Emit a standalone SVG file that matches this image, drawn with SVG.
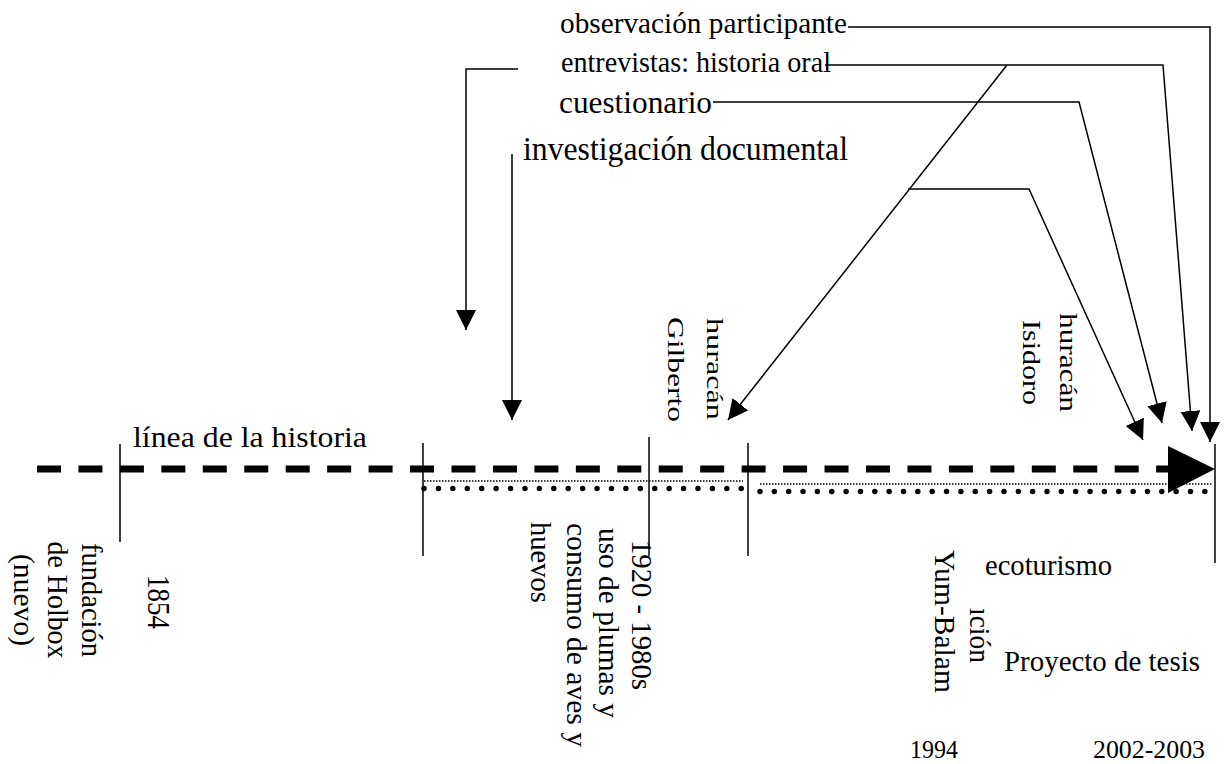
<svg xmlns="http://www.w3.org/2000/svg" width="1226" height="764" viewBox="0 0 1226 764">
<style>
text{font-family:"Liberation Serif","Times New Roman",serif;fill:#000}
.c{fill:none;stroke:#000;stroke-width:1.5}
.t{stroke:#000;stroke-width:1.5}
</style>
<defs>
<marker id="ah" markerUnits="userSpaceOnUse" viewBox="0 0 20 20" refX="20" refY="10" markerWidth="20" markerHeight="20" orient="auto">
<path d="M0,0 L20,10 L0,20 z" fill="#000"/>
</marker>
</defs>
<rect width="1226" height="764" fill="#fff"/>
<g id="timeline">
<line x1="37" y1="469" x2="1170" y2="469" stroke="#000" stroke-width="7" stroke-dasharray="24 17.45"/>
<polygon points="1168,446 1215,469 1168,493" fill="#000"/>
<line x1="424" y1="481" x2="743" y2="481" stroke="#000" stroke-width="1.5" stroke-dasharray="1.5 1.5"/>
<line x1="424" y1="488.5" x2="743" y2="488.5" stroke="#000" stroke-width="5.5" stroke-linecap="round" stroke-dasharray="0 14.42"/>
<line x1="760" y1="484" x2="1213" y2="484" stroke="#000" stroke-width="1.5" stroke-dasharray="1.5 1.5"/>
<line x1="760" y1="491.5" x2="1207" y2="491.5" stroke="#000" stroke-width="5.5" stroke-linecap="round" stroke-dasharray="0 14.35"/>
<line class="t" x1="120" y1="444" x2="120" y2="542"/>
<line class="t" x1="423" y1="443" x2="423" y2="556"/>
<line class="t" x1="649" y1="437" x2="649" y2="556"/>
<line class="t" x1="748" y1="443" x2="748" y2="556"/>
<line class="t" x1="1215" y1="444" x2="1215" y2="563"/>
<text x="133" y="447" font-size="30" textLength="234" lengthAdjust="spacingAndGlyphs">línea de la historia</text>
</g>
<g id="connectors">
<polyline class="c" points="848,27 1210,27 1210,442" marker-end="url(#ah)"/>
<polyline class="c" points="825,65 1163,65 1192,431" marker-end="url(#ah)"/>
<line class="c" x1="1007" y1="65" x2="728" y2="420" marker-end="url(#ah)"/>
<polyline class="c" points="713,102 1079,102 1162,423" marker-end="url(#ah)"/>
<polyline class="c" points="908,189 1029,189 1143,440" marker-end="url(#ah)"/>
<polyline class="c" points="518,69 466,69 466,330" marker-end="url(#ah)"/>
<line class="c" x1="512" y1="154" x2="512" y2="420" marker-end="url(#ah)"/>
</g>
<g id="observacion"><text x="560" y="33" font-size="29" textLength="287" lengthAdjust="spacingAndGlyphs">observación participante</text></g>
<g id="entrevistas"><text x="561" y="72" font-size="29" textLength="270" lengthAdjust="spacingAndGlyphs">entrevistas: historia oral</text></g>
<g id="cuestionario"><text x="559" y="113" font-size="31" textLength="153" lengthAdjust="spacingAndGlyphs">cuestionario</text></g>
<g id="investigacion"><text x="523" y="160" font-size="34" textLength="325" lengthAdjust="spacingAndGlyphs">investigación documental</text></g>
<g id="fundacion" transform="translate(82,600) rotate(90)" font-size="29" text-anchor="middle">
<text x="0" y="0" textLength="114" lengthAdjust="spacingAndGlyphs">fundación</text>
<text x="0" y="34" textLength="117" lengthAdjust="spacingAndGlyphs">de Holbox</text>
<text x="0" y="68" textLength="92" lengthAdjust="spacingAndGlyphs">(nuevo)</text>
</g>
<g id="y1854"><text transform="translate(148,575) rotate(90)" font-size="32" textLength="54" lengthAdjust="spacingAndGlyphs">1854</text></g>
<g id="plumas" font-size="29">
<text transform="translate(632,540) rotate(90)" textLength="150" lengthAdjust="spacingAndGlyphs">1920 - 1980s</text>
<text transform="translate(599,528) rotate(90)" textLength="190" lengthAdjust="spacingAndGlyphs">uso de plumas y</text>
<text transform="translate(567,523) rotate(90)" textLength="224" lengthAdjust="spacingAndGlyphs">consumo de aves y</text>
<text transform="translate(531,522) rotate(90)" textLength="81" lengthAdjust="spacingAndGlyphs">huevos</text>
</g>
<g id="gilberto" font-size="23">
<text transform="translate(707,318) rotate(90)" textLength="102" lengthAdjust="spacingAndGlyphs">huracán</text>
<text transform="translate(668,317) rotate(90)" textLength="105" lengthAdjust="spacingAndGlyphs">Gilberto</text>
</g>
<g id="isidoro" font-size="25">
<text transform="translate(1060,313) rotate(90)" textLength="99" lengthAdjust="spacingAndGlyphs">huracán</text>
<text transform="translate(1023,320) rotate(90)" textLength="85" lengthAdjust="spacingAndGlyphs">Isidoro</text>
</g>
<g id="yumbalam" font-size="30">
<text transform="translate(970,608) rotate(90)" textLength="55" lengthAdjust="spacingAndGlyphs">ıción</text>
<text transform="translate(935,550) rotate(90)" textLength="143" lengthAdjust="spacingAndGlyphs">Yum-Balam</text>
</g>
<g id="ecoturismo"><text x="985" y="575" font-size="28.5" textLength="127" lengthAdjust="spacingAndGlyphs">ecoturismo</text></g>
<g id="proyecto"><text x="1004" y="671" font-size="29" textLength="196" lengthAdjust="spacingAndGlyphs">Proyecto de tesis</text></g>
<g id="y1994"><text x="910" y="758" font-size="25" textLength="48" lengthAdjust="spacingAndGlyphs">1994</text></g>
<g id="y2002"><text x="1093" y="758" font-size="25" textLength="112" lengthAdjust="spacingAndGlyphs">2002-2003</text></g>
</svg>
